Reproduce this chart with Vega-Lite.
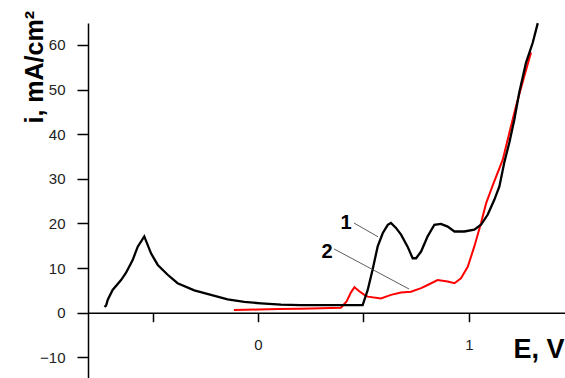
{
  "$schema": "https://vega.github.io/schema/vega-lite/v6.json",
  "width": 477,
  "height": 355,
  "autosize": {"type": "none"},
  "padding": {"left": 88, "top": 23, "right": 0, "bottom": 0},
  "background": "white",
  "config": {"view": {"stroke": null}, "font": "Liberation Sans"},
  "datasets": {
    "curve1": [
      {"E": -0.728, "i": 1.3}, {"E": -0.72, "i": 1.6}, {"E": -0.712, "i": 2.9}, {"E": -0.689, "i": 5.1},
      {"E": -0.649, "i": 7.3}, {"E": -0.626, "i": 8.9}, {"E": -0.594, "i": 11.8}, {"E": -0.57, "i": 14.8},
      {"E": -0.539, "i": 17.1}, {"E": -0.507, "i": 13.3}, {"E": -0.475, "i": 10.7}, {"E": -0.428, "i": 8.5},
      {"E": -0.381, "i": 6.6}, {"E": -0.302, "i": 5.0}, {"E": -0.223, "i": 4.0}, {"E": -0.144, "i": 3.0},
      {"E": -0.065, "i": 2.4}, {"E": 0.014, "i": 2.1}, {"E": 0.109, "i": 1.8}, {"E": 0.2, "i": 1.7},
      {"E": 0.3, "i": 1.7}, {"E": 0.4, "i": 1.7}, {"E": 0.496, "i": 1.7}, {"E": 0.52, "i": 5.1},
      {"E": 0.543, "i": 9.6}, {"E": 0.567, "i": 14.8}, {"E": 0.591, "i": 17.8}, {"E": 0.615, "i": 19.7},
      {"E": 0.63, "i": 20.1}, {"E": 0.654, "i": 19.0}, {"E": 0.678, "i": 17.5}, {"E": 0.709, "i": 14.8},
      {"E": 0.733, "i": 12.2}, {"E": 0.749, "i": 12.2}, {"E": 0.773, "i": 13.7}, {"E": 0.804, "i": 17.1},
      {"E": 0.836, "i": 19.7}, {"E": 0.867, "i": 19.9}, {"E": 0.899, "i": 19.3}, {"E": 0.931, "i": 18.2},
      {"E": 0.978, "i": 18.2}, {"E": 1.025, "i": 18.6}, {"E": 1.057, "i": 19.7}, {"E": 1.089, "i": 22.0},
      {"E": 1.12, "i": 25.3}, {"E": 1.144, "i": 28.3}, {"E": 1.167, "i": 33.6}, {"E": 1.191, "i": 38.1},
      {"E": 1.215, "i": 43.3}, {"E": 1.238, "i": 49.3}, {"E": 1.27, "i": 56.0}, {"E": 1.302, "i": 60.5},
      {"E": 1.326, "i": 64.9}
    ],
    "curve2": [
      {"E": -0.114, "i": 0.6}, {"E": 0.0, "i": 0.7}, {"E": 0.1, "i": 0.8}, {"E": 0.2, "i": 0.9},
      {"E": 0.3, "i": 1.0}, {"E": 0.393, "i": 1.1}, {"E": 0.42, "i": 2.5}, {"E": 0.44, "i": 4.5},
      {"E": 0.457, "i": 5.7}, {"E": 0.48, "i": 4.8}, {"E": 0.504, "i": 4.0}, {"E": 0.52, "i": 3.6},
      {"E": 0.583, "i": 3.2}, {"E": 0.63, "i": 4.0}, {"E": 0.678, "i": 4.5}, {"E": 0.725, "i": 4.7},
      {"E": 0.773, "i": 5.5}, {"E": 0.804, "i": 6.2}, {"E": 0.851, "i": 7.3}, {"E": 0.899, "i": 7.0},
      {"E": 0.931, "i": 6.6}, {"E": 0.962, "i": 7.7}, {"E": 0.994, "i": 10.3}, {"E": 1.025, "i": 14.8},
      {"E": 1.057, "i": 20.1}, {"E": 1.081, "i": 24.5}, {"E": 1.112, "i": 28.5}, {"E": 1.16, "i": 34.3},
      {"E": 1.191, "i": 40.3}, {"E": 1.223, "i": 46.3}, {"E": 1.262, "i": 53.0}, {"E": 1.294, "i": 58.3}
    ],
    "labels": [
      {"E": 0.417, "i": 20.1, "label": "1"},
      {"E": 0.327, "i": 13.6, "label": "2"}
    ],
    "leaders": [
      {"E": 0.455, "i": 20.1, "E2": 0.569, "i2": 17.0},
      {"E": 0.36, "i": 14.3, "E2": 0.716, "i2": 5.3}
    ]
  },
  "layer": [
    {
      "data": {"name": "curve2"},
      "mark": {"type": "line", "color": "#ff0000", "strokeWidth": 2},
      "encoding": {
        "x": {
          "field": "E", "type": "quantitative",
          "scale": {"domain": [-0.8057, 1.455], "nice": false, "zero": false},
          "axis": {
            "values": [-0.5, 0, 0.5, 1],
            "labelExpr": "datum.value === 0 ? '0' : (datum.value === 1 ? '1' : '')",
            "grid": false,
            "offset": -65.3,
            "domainColor": "#000", "domainWidth": 1.5,
            "tickColor": "#000", "tickWidth": 1.5, "tickSize": 9,
            "labelFontSize": 15, "labelColor": "#222", "labelPadding": 16, "labelFlush": false,
            "title": "E, V", "titleFontSize": 27, "titleFontWeight": "bold", "titleColor": "#000",
            "titleX": 476, "titleY": 45, "titleAlign": "right", "titleBaseline": "alphabetic"
          }
        },
        "y": {
          "field": "i", "type": "quantitative",
          "scale": {"domain": [-14.64, 64.93], "nice": false, "zero": false},
          "axis": {
            "values": [-10, -5, 0, 5, 10, 15, 20, 25, 30, 35, 40, 45, 50, 55, 60],
            "labelExpr": "datum.value % 10 === 0 ? datum.label : ''",
            "grid": false,
            "domainColor": "#000", "domainWidth": 1.5,
            "tickColor": "#000", "tickWidth": 1.5,
            "tickSize": {"condition": {"test": "datum.value % 10 === 0", "value": 11}, "value": 6},
            "labelFontSize": 15, "labelColor": "#222", "labelPadding": 12,
            "title": "i, mA/cm²", "titleFontSize": 25, "titleFontWeight": "bold", "titleColor": "#000",
            "titleAngle": -90, "titleX": -46, "titleY": 100, "titleAlign": "left", "titleBaseline": "alphabetic"
          }
        }
      }
    },
    {
      "data": {"name": "curve1"},
      "mark": {"type": "line", "color": "#000000", "strokeWidth": 2.3},
      "encoding": {
        "x": {"field": "E", "type": "quantitative"},
        "y": {"field": "i", "type": "quantitative"}
      }
    },
    {
      "data": {"name": "leaders"},
      "mark": {"type": "rule", "color": "#333333", "strokeWidth": 0.8},
      "encoding": {
        "x": {"field": "E", "type": "quantitative"},
        "y": {"field": "i", "type": "quantitative"},
        "x2": {"field": "E2"},
        "y2": {"field": "i2"}
      }
    },
    {
      "data": {"name": "labels"},
      "mark": {"type": "text", "fontSize": 20, "fontWeight": "bold", "color": "#000", "align": "center", "baseline": "middle"},
      "encoding": {
        "x": {"field": "E", "type": "quantitative"},
        "y": {"field": "i", "type": "quantitative"},
        "text": {"field": "label"}
      }
    }
  ]
}
